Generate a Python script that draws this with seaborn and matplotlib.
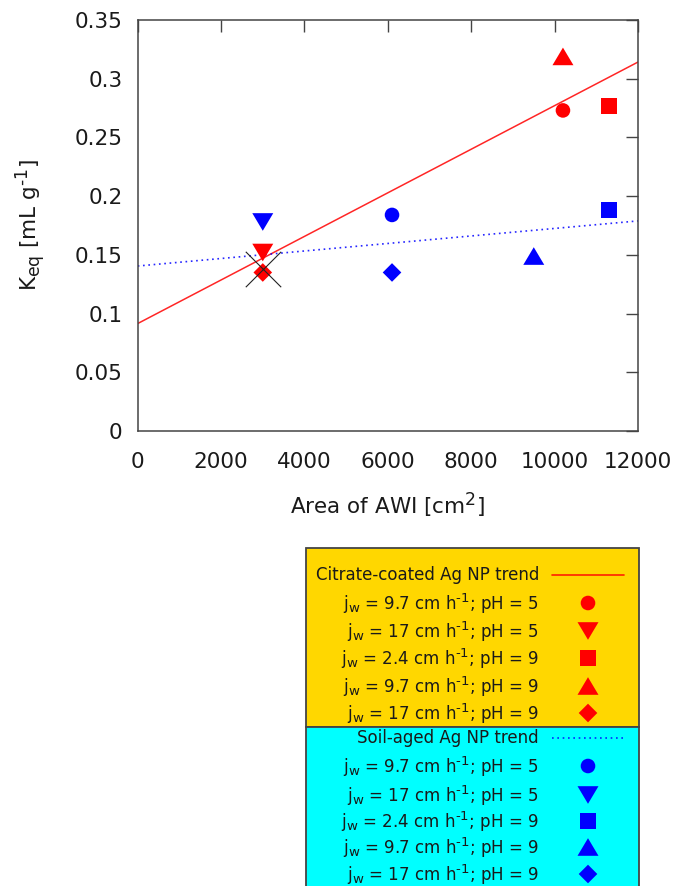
import matplotlib
matplotlib.use("Agg")
import matplotlib.pyplot as plt
import matplotlib._mathtext as mathtext_impl
from matplotlib.patches import Rectangle
from matplotlib.path import Path
import seaborn as sns

# ---- data: area of the air-water interface [cm^2] vs. K_eq [mL/g] ----
condition_labels = [
    r"j$_\mathregular{w}$ = 9.7 cm h$^\mathregular{‐1}$; pH = 5",
    r"j$_\mathregular{w}$ = 17 cm h$^\mathregular{‐1}$; pH = 5",
    r"j$_\mathregular{w}$ = 2.4 cm h$^\mathregular{‐1}$; pH = 9",
    r"j$_\mathregular{w}$ = 9.7 cm h$^\mathregular{‐1}$; pH = 9",
    r"j$_\mathregular{w}$ = 17 cm h$^\mathregular{‐1}$; pH = 9",
]

citrate_area = [10200, 3000, 11300, 10200, 3000]
citrate_keq = [0.273, 0.152, 0.277, 0.319, 0.135]

soil_area = [6100, 3000, 11300, 9500, 6100]
soil_keq = [0.184, 0.178, 0.188, 0.149, 0.135]

cross_area = [3000]
cross_keq = [0.138]

trend_area = [0, 12000]
citrate_trend = [0.0915, 0.3142]
soil_trend = [0.1405, 0.1789]

citrate_trend_label = "Citrate-coated Ag NP trend"
soil_trend_label = "Soil-aged Ag NP trend"

x_ticks = [0, 2000, 4000, 6000, 8000, 10000, 12000]
y_ticks = [0, 0.05, 0.1, 0.15, 0.2, 0.25, 0.3, 0.35]
y_tick_labels = ["0", "0.05", "0.1", "0.15", "0.2", "0.25", "0.3", "0.35"]

# ---- style ----
sns.set_theme(style="white")
plt.rcParams["font.family"] = ["DejaVu Sans"]
plt.rcParams["mathtext.default"] = "regular"
# slightly larger sub/superscripts
mathtext_impl.SHRINK_FACTOR = 0.8

RED = "#ff0000"
BLUE = "#0000ff"
FRAME = "#444444"
TEXT = "#1a1a1a"

# marker shapes (gnuplot-like), sizes in points
tri_up = Path([(-1, -0.84), (1, -0.84), (0, 0.84), (-1, -0.84)], closed=True)
tri_down = Path([(-1, 0.84), (1, 0.84), (0, -0.84), (-1, 0.84)], closed=True)
diamond = Path([(0, 1), (1, 0), (0, -1), (-1, 0), (0, 1)], closed=True)
marker_shapes = ["o", tri_down, "s", tri_up, diamond]
marker_sizes = [10.5, 15.1, 11.2, 15.1, 13.4]

fig = plt.figure(figsize=(6.79, 8.86), dpi=100)
ax = fig.add_axes([137.7 / 679, 1 - 431 / 886, 500.3 / 679, 411 / 886])

# trend lines
sns.lineplot(x=trend_area, y=citrate_trend, color=RED, linewidth=1.1,
             alpha=0.85, ax=ax, zorder=2)
sns.lineplot(x=trend_area, y=soil_trend, color=BLUE, linewidth=1.2,
             linestyle=(0, (1, 2.2)), alpha=0.85, ax=ax, zorder=2)

# data points
for xs, ys, col in [(citrate_area, citrate_keq, RED), (soil_area, soil_keq, BLUE)]:
    for x, y, m, ms in zip(xs, ys, marker_shapes, marker_sizes):
        sns.scatterplot(x=[x], y=[y], marker=m, s=ms ** 2, color=col,
                        edgecolor="none", linewidth=0, ax=ax, zorder=3)

sns.scatterplot(x=cross_area, y=cross_keq, marker="x", s=25.5 ** 2,
                color="#222222", linewidth=0.8, ax=ax, zorder=4)

ax.set_xlim(0, 12000)
ax.set_ylim(0, 0.35)
ax.set_xticks(x_ticks)
ax.set_xticklabels([str(t) for t in x_ticks])
ax.set_yticks(y_ticks)
ax.set_yticklabels(y_tick_labels)

ax.tick_params(axis="both", which="major", direction="in", length=8.6,
               width=1.0, color=FRAME, labelsize=15.5, labelcolor=TEXT,
               top=True, right=True)
ax.tick_params(axis="x", pad=15)
ax.tick_params(axis="y", pad=11)
for sp in ax.spines.values():
    sp.set_color(FRAME)
    sp.set_linewidth(1.1)

ax.set_xlabel(r"Area of AWI [cm$^\mathregular{2}$]", fontsize=15.5, color=TEXT,
              va="center")
ax.xaxis.set_label_coords(0.5, (431 - 505) / 411)
ax.set_ylabel(r"K$_\mathregular{eq}$ [mL g$^\mathregular{‐1}$]", fontsize=15.5,
              color=TEXT, va="center")
ax.yaxis.set_label_coords((30 - 137.7) / 500.3, 0.5)

# ---- legend panel below the plot (pixel coordinates) ----
lg = fig.add_axes([305 / 679, 0, 334 / 679, 339 / 886])
lg.set_xlim(305, 639)
lg.set_ylim(886, 547)
lg.axis("off")

lg.add_patch(Rectangle((305.5, 548), 333, 179, facecolor="#ffd700",
                       edgecolor=FRAME, linewidth=1.3, clip_on=False))
lg.add_patch(Rectangle((305.5, 727), 333, 200, facecolor="#00ffff",
                       edgecolor=FRAME, linewidth=1.3, clip_on=False))

TEXT_X = 539
KEY_X = 588
LEG_FS = 12

groups = [
    (citrate_trend_label, RED, "-", 575, [603, 631, 658, 686, 713]),
    (soil_trend_label, BLUE, (0, (1, 2.2)), 738, [766, 795, 821, 847, 874]),
]
for title, col, ls, ty, rows in groups:
    lg.text(TEXT_X, ty, title, ha="right", va="center", fontsize=LEG_FS,
            color=TEXT)
    lg.plot([552, 624], [ty, ty], color=col, linestyle=ls, linewidth=1.2,
            alpha=0.85)
    for lab, ry, m, ms in zip(condition_labels, rows, marker_shapes, marker_sizes):
        lg.text(TEXT_X, ry, lab, ha="right", va="center", fontsize=LEG_FS,
                color=TEXT)
        lg.scatter([KEY_X], [ry], marker=m, s=ms ** 2, color=col,
                   edgecolor="none", linewidth=0, clip_on=False)

fig.savefig("out.png", dpi=100)
